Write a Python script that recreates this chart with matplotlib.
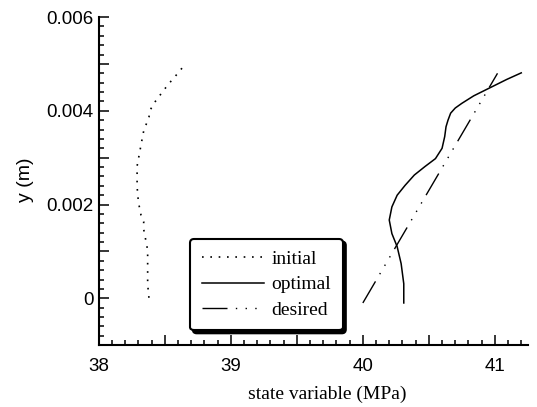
import matplotlib.pyplot as plt
from matplotlib.ticker import MultipleLocator, FuncFormatter

# values
initial_x = [38.63, 38.58, 38.54, 38.50, 38.46, 38.42, 38.39, 38.38, 38.36, 38.34,
             38.33, 38.32, 38.31, 38.30, 38.29, 38.29, 38.29, 38.29, 38.30, 38.32,
             38.34, 38.34, 38.35, 38.36, 38.37, 38.37, 38.37, 38.37, 38.37, 38.37, 38.38]
initial_y = [0.00491, 0.00474, 0.00461, 0.00447, 0.00432, 0.00417, 0.00402, 0.00387,
             0.00372, 0.00357, 0.00343, 0.00327, 0.00313, 0.00297, 0.00282, 0.00266,
             0.00252, 0.00238, 0.00205, 0.00177, 0.00163, 0.00147, 0.00133, 0.00117,
             0.00103, 0.00088, 0.00074, 0.00058, 0.00044, 0.00030, 0.0]

optimal_x = [41.20, 41.09, 40.94, 40.84, 40.75, 40.70, 40.665, 40.645, 40.63, 40.62,
             40.60, 40.55, 40.47, 40.39, 40.32, 40.26, 40.22, 40.20, 40.22, 40.26,
             40.29, 40.31, 40.31]
optimal_y = [0.00481, 0.00467, 0.00446, 0.00432, 0.00416, 0.00406, 0.00395, 0.00380,
             0.00366, 0.00345, 0.00320, 0.00298, 0.00281, 0.00263, 0.00241, 0.00220,
             0.00195, 0.00167, 0.00138, 0.00110, 0.00074, 0.00031, -0.0001]

desired_x = [40.0, 41.02]
desired_y = [-0.0001, 0.0048]

fig = plt.figure(figsize=(5.37, 4.07), dpi=100)
ax = fig.add_axes([0.184, 0.152, 0.799, 0.806])

ax.plot(initial_x, initial_y, color='black', lw=1.2, linestyle=(0, (1, 4)), label='initial')
ax.plot(optimal_x, optimal_y, color='black', lw=1.1, label='optimal')
ax.plot(desired_x, desired_y, color='black', lw=1.0,
        linestyle=(0, (18, 6, 1, 6, 1, 6, 1, 6)), label='desired')

ax.set_xlim(38, 41.25)
ax.set_ylim(-0.001, 0.006)

for s in ['top', 'right']:
    ax.spines[s].set_visible(False)
for s in ['left', 'bottom']:
    ax.spines[s].set_linewidth(1.5)

ax.xaxis.set_major_locator(MultipleLocator(0.5))
ax.xaxis.set_minor_locator(MultipleLocator(0.1))
ax.yaxis.set_major_locator(MultipleLocator(0.001))
ax.yaxis.set_minor_locator(MultipleLocator(0.0002))

def xfmt(v, pos):
    return '%d' % round(v) if abs(v - round(v)) < 1e-6 else ''

def yfmt(v, pos):
    k = round(v / 0.001)
    if abs(v - k * 0.001) < 1e-9 and k % 2 == 0:
        return '0' if k == 0 else '%.3f' % v
    return ''

ax.xaxis.set_major_formatter(FuncFormatter(xfmt))
ax.yaxis.set_major_formatter(FuncFormatter(yfmt))

ax.tick_params(which='both', direction='in', width=1.1)
ax.tick_params(which='major', length=7)
ax.tick_params(which='minor', length=3.5)
ax.tick_params(axis='x', which='major', pad=9, labelsize=13.5)
ax.tick_params(axis='y', which='major', pad=4, labelsize=13.5)
for lab in ax.get_xticklabels() + ax.get_yticklabels():
    lab.set_family('Liberation Sans')

ax.set_xlabel('state variable (MPa)', family='Liberation Serif', fontsize=14)
ax.xaxis.set_label_coords(0.532, -0.125)
ax.set_ylabel('y (m)', family='Liberation Sans', fontsize=14)
ax.yaxis.set_label_coords(-0.15, 0.503)

leg = ax.legend(loc='lower left', bbox_to_anchor=(0.19, 0.015), fancybox=True,
                shadow={'color': 'black', 'alpha': 1},
                prop={'family': 'Liberation Serif', 'size': 14},
                handlelength=3.2, handletextpad=0.4, labelspacing=0.4,
                borderpad=0.6, framealpha=1, edgecolor='black')
leg.get_frame().set_linewidth(1.5)

fig.savefig('out.png', dpi=100)
